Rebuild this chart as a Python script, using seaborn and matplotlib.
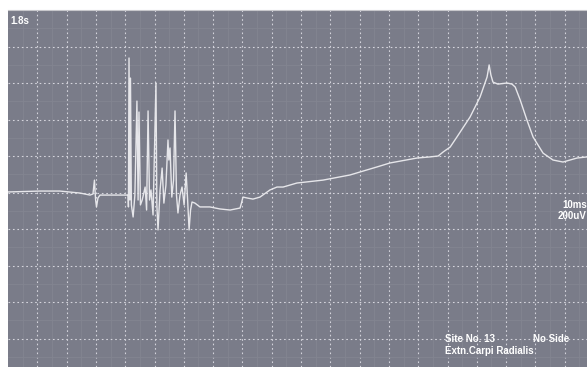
import matplotlib
matplotlib.use("Agg")
import matplotlib.pyplot as plt
import numpy as np
import pandas as pd
import seaborn as sns

# trace: time in ms (10 ms/div), amplitude in uV (200 uV/div)
time_ms = [0, 10.9, 17.7, 24.6, 28.0, 29.0, 29.5, 29.9, 30.2, 30.7, 31.4, 41.0,
           41.1, 41.3, 41.6, 41.8, 42.1, 42.7, 43.3, 44.0, 44.4, 44.7, 45.2, 45.8,
           46.8, 47.3, 47.8, 48.3, 48.8, 49.5, 50.5, 50.8, 51.2, 51.9, 52.6, 53.2,
           53.9, 54.6, 54.9, 55.3, 55.9, 56.5, 57.0, 57.5, 58.0, 58.7, 59.4, 60.1,
           60.8, 61.3, 61.8, 62.3, 62.8, 63.8, 65.5, 68.9, 72.3, 75.8, 79.2, 79.5,
           80.2, 81.6, 83.6, 86.0, 89.4, 91.8, 93.9, 98.6, 107.5, 116.7, 125.9, 130.4,
           139.6, 144.0, 146.8, 148.5, 150.9, 153.2, 157.7, 161.1, 163.5, 164.2, 164.8,
           165.5, 167.2, 170.3, 172.0, 173.1, 174.8, 177.1, 179.2, 182.6, 186.0, 189.4,
           194.2, 197.6]
amp_uv = [3, 8, 8, -3, -14, -8, 68, -41, -79, -30, -14, -14,
          -79, 737, -41, 627, -68, -134, -14, 501, -41, 441, -68, -41,
          30, -96, 447, -41, 14, -123, 600, -68, -205, 14, 134, -58,
          41, 288, 178, 244, -25, 68, 447, -14, -112, -14, 30, -68,
          107, -41, -205, -96, -52, -58, -79, -79, -90, -96, -85, -68,
          -25, -30, -36, -25, 14, 30, 30, 52, 68, 96, 140, 162,
          189, 195, 200, 222, 249, 304, 414, 523, 633, 699, 644,
          605, 594, 600, 594, 578, 507, 397, 304, 216, 178, 167,
          189, 195]

df = pd.DataFrame({"t": time_ms, "v": amp_uv})

bg = "#7a7c89"
sns.set_style("white", {"axes.facecolor": bg})
plt.rcParams["font.family"] = ["Liberation Sans", "DejaVu Sans"]

fig = plt.figure(figsize=(5.87, 3.67), dpi=100)
ax = fig.add_axes([8 / 587, 0, 1 - 8 / 587, 357 / 367])

sns.lineplot(data=df, x="t", y="v", ax=ax, color="#e6e6ea", linewidth=1.0,
             sort=False, estimator=None)

ax.set_xlim(0, 197.6)
ax.set_ylim(-956, 1000)

# grid: 10 ms and 200 uV per division
ax.set_xticks(np.arange(10, 197, 10))
ax.set_yticks(np.arange(-800, 1000, 200))
ax.set_xticks(np.arange(5, 197, 10), minor=True)
ax.set_yticks(np.arange(-900, 1000, 100), minor=True)
ax.grid(True, which="major", color="#d4d4dc", linestyle=(0, (1.5, 2.5)), linewidth=0.8)
ax.grid(True, which="minor", color="#838591", linestyle="-", linewidth=0.6)
ax.tick_params(which="major", direction="in", length=3, color="white",
               labelleft=False, labelbottom=False)
ax.tick_params(which="minor", length=0)
ax.set_xlabel("")
ax.set_ylabel("")
for s in ax.spines.values():
    s.set_visible(False)
ax.spines["top"].set_visible(True)
ax.spines["top"].set_color("#c8c8cc")

txt = dict(color="white", fontsize=7, fontweight="bold", transform=fig.transFigure)
fig.text(10 / 587, 1 - 21 / 367, "1.8s", va="center", ha="left", **txt)
fig.text(587 / 587, 1 - 205 / 367, "10ms", va="center", ha="right", **txt)
fig.text(587 / 587, 1 - 216 / 367, "200uV", va="center", ha="right", **txt)
fig.text(445 / 587, 1 - 339 / 367, "Site No. 13", va="center", ha="left", **txt)
fig.text(533 / 587, 1 - 339 / 367, "No Side", va="center", ha="left", **txt)
fig.text(445 / 587, 1 - 351 / 367, "Extn.Carpi Radialis", va="center", ha="left", **txt)

fig.savefig("out.png", dpi=100)
